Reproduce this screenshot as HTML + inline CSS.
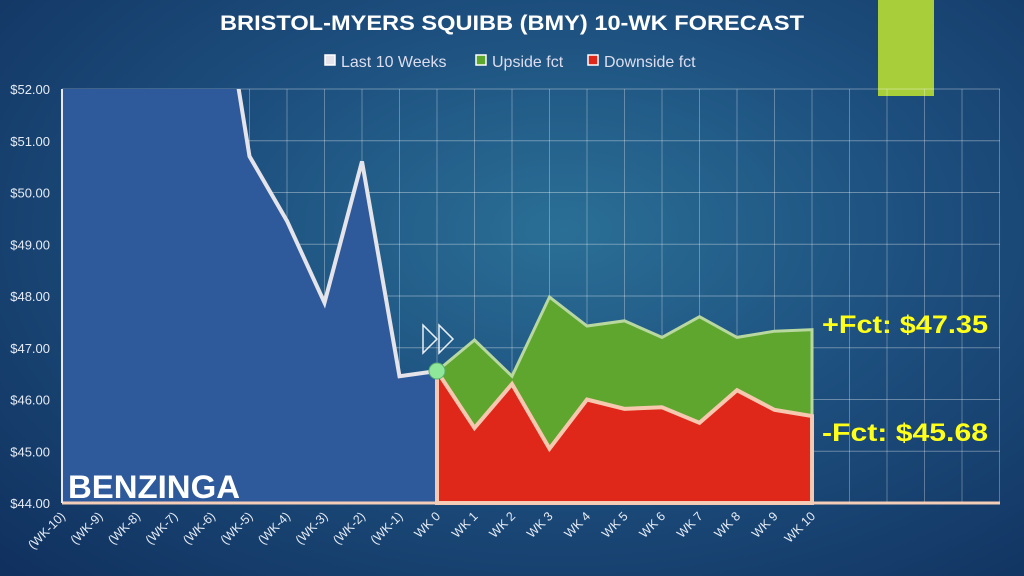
<!DOCTYPE html>
<html><head><meta charset="utf-8"><style>
html,body{margin:0;padding:0;width:1024px;height:576px;overflow:hidden}
body{background:radial-gradient(ellipse at 55% 40%,#2a6f96 0%,#1d4f7e 45%,#10305e 100%);font-family:"Liberation Sans",sans-serif}
svg{position:absolute;left:0;top:0}
</style></head><body>
<svg width="1024" height="576">
<rect x="878" y="0" width="56" height="96" fill="#a8cf3a"/>
<text x="220" y="30" fill="#fff" font-size="21" font-weight="bold" textLength="584" lengthAdjust="spacingAndGlyphs">BRISTOL-MYERS SQUIBB (BMY) 10-WK FORECAST</text>
<g id="legend" font-size="16" fill="#dde"></g>
<g id="grid"></g><g id="marks"></g><g id="axes"></g>
<text x="68" y="498" fill="#fff" font-size="32" font-weight="bold" textLength="172" lengthAdjust="spacingAndGlyphs">BENZINGA</text>
<text x="822" y="333" fill="#ffff1a" font-size="25" font-weight="bold" textLength="166" lengthAdjust="spacingAndGlyphs">+Fct: $47.35</text>
<text x="822" y="441" fill="#ffff1a" font-size="25" font-weight="bold" textLength="166" lengthAdjust="spacingAndGlyphs">-Fct: $45.68</text>
</svg>
<script>
const categories=["(WK-10)","(WK-9)","(WK-8)","(WK-7)","(WK-6)","(WK-5)","(WK-4)","(WK-3)","(WK-2)","(WK-1)","WK 0","WK 1","WK 2","WK 3","WK 4","WK 5","WK 6","WK 7","WK 8","WK 9","WK 10"];
const last10=[60,59,58,57,55.2,50.7,49.45,47.87,50.6,46.45,46.55];
const upside=[46.55,47.15,46.45,47.98,47.42,47.52,47.2,47.6,47.2,47.32,47.35];
const downside=[46.55,45.45,46.3,45.05,46.0,45.82,45.85,45.55,46.18,45.8,45.68];
const yTicks=[44,45,46,47,48,49,50,51,52];
const NS="http://www.w3.org/2000/svg";
const L=62,R=1000,T=89,B=503,step=37.5,yMin=44,yMax=52;
const xs=i=>L+i*step;
const ys=v=>B-(v-yMin)/(yMax-yMin)*(B-T);
function mk(tag,at,parent){const e=document.createElementNS(NS,tag);for(const k in at)e.setAttribute(k,at[k]);parent.appendChild(e);return e;}
const grid=document.getElementById('grid'),marks=document.getElementById('marks'),axes=document.getElementById('axes'),leg=document.getElementById('legend');
const cp=mk('clipPath',{id:'cp'},grid);mk('rect',{x:L,y:T,width:R-L,height:B-T},cp);
const hist=last10.map((v,i)=>xs(i)+','+ys(v)).join(' ');
const ha=mk('polygon',{points:xs(0)+','+B+' '+hist+' '+xs(10)+','+B,fill:'#2e5a9c','clip-path':'url(#cp)'},marks);

for(let i=0;i<=25;i++){const g=mk('line',{x1:L+i*step,x2:L+i*step,y1:T,y2:B,stroke:'rgba(255,255,255,0.3)','stroke-width':1},grid);}
yTicks.forEach(v=>{const g=mk('line',{x1:L,x2:R,y1:ys(v),y2:ys(v),stroke:'rgba(255,255,255,0.35)','stroke-width':1},grid);
const t=mk('text',{x:L-12,y:ys(v)+5,'text-anchor':'end',fill:'#e6ecf5','font-size':13},axes);t.textContent='$'+v.toFixed(2);});
const off=10;
const up=upside.map((v,i)=>xs(off+i)+','+ys(v)).join(' ');
const dn=downside.map((v,i)=>xs(off+i)+','+ys(v)).join(' ');
const ua=mk('polygon',{points:xs(off)+','+B+' '+up+' '+xs(off+10)+','+B,fill:'#5ea62e',stroke:'#b8d8a0','stroke-width':3},marks);

const da=mk('polygon',{points:xs(off)+','+B+' '+dn+' '+xs(off+10)+','+B,fill:'#e0281a',stroke:'#f6c8b0','stroke-width':4},marks);

const hl=mk('polyline',{points:hist,fill:'none',stroke:'#e4e4ea','stroke-width':4,'clip-path':'url(#cp)'},marks);

const dot=mk('circle',{cx:xs(10),cy:ys(last10[10]),r:8,fill:'#8fe89a',stroke:'#5cb070','stroke-width':1},marks);

const ar=mk('path',{d:`M${xs(10)-14},${ys(last10[10])-46}l14,14l-14,14z M${xs(10)+2},${ys(last10[10])-46}l14,14l-14,14z`,fill:'none',stroke:'#e8eef6','stroke-width':1.5},marks);

const ax=mk('line',{x1:L,x2:R,y1:B,y2:B,stroke:'#f4cdb8','stroke-width':3},axes);
const ay=mk('line',{x1:L,x2:L,y1:T,y2:B,stroke:'#e8e8f0','stroke-width':2},axes);
categories.forEach((c,i)=>{const x=xs(i)+4,y=B+14;const t=mk('text',{x:x,y:y,'text-anchor':'end',fill:'#e6ecf5','font-size':12.5,transform:`rotate(-45 ${x} ${y})`},axes);t.textContent=c;});
[["Last 10 Weeks","#e4e4ea",325],["Upside fct","#5ea62e",476],["Downside fct","#e0281a",588]].forEach(([n,col,x])=>{
const r=mk('rect',{x:x,y:55,width:10,height:10,fill:col,stroke:'#fff','stroke-width':1.5},leg);
const t=mk('text',{x:x+16,y:67},leg);t.textContent=n;});
</script>
</body></html>
